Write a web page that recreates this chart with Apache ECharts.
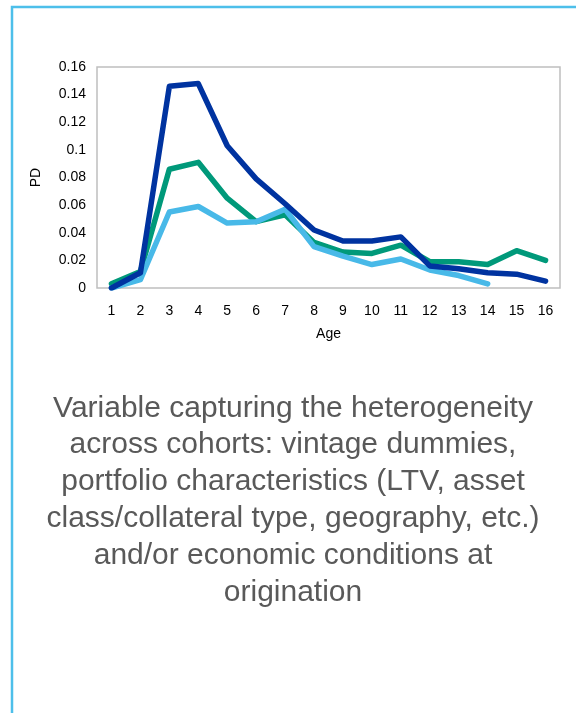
<!DOCTYPE html>
<html>
<head>
<meta charset="utf-8">
<script src="https://cdn.jsdelivr.net/npm/echarts@6/dist/echarts.min.js"></script>
<style>
  html, body { margin: 0; padding: 0; background: #ffffff; }
  #chart { width: 576px; height: 713px; }
</style>
</head>
<body>
<div id="chart"></div>
<script>
// Loan age (years since origination)
const ages = ['1','2','3','4','5','6','7','8','9','10','11','12','13','14','15','16'];

// Probability of default by age, one curve per cohort
const cohortHigh = [0.000, 0.011, 0.146, 0.148, 0.103, 0.079, 0.061, 0.042, 0.034, 0.034, 0.037, 0.016, 0.014, 0.011, 0.010, 0.005];
const cohortMid  = [0.003, 0.012, 0.086, 0.091, 0.065, 0.048, 0.053, 0.033, 0.026, 0.025, 0.031, 0.019, 0.019, 0.017, 0.027, 0.020];
const cohortLow  = [0.000, 0.006, 0.055, 0.059, 0.047, 0.048, 0.057, 0.030, 0.023, 0.017, 0.021, 0.013, 0.009, 0.003, null, null];

const yTicks = { min: 0, max: 0.16, step: 0.02 };

const captionLines = [
  'Variable capturing the heterogeneity',
  'across cohorts: vintage dummies,',
  'portfolio characteristics (LTV, asset',
  'class/collateral type, geography, etc.)',
  'and/or economic conditions at',
  'origination'
];

const chart = echarts.init(document.getElementById('chart'), null, { renderer: 'canvas' });

const font = '"Liberation Sans", Arial, sans-serif';

function lineSeries(name, data, color) {
  return {
    name: name,
    type: 'line',
    data: data,
    showSymbol: false,
    symbol: 'none',
    connectNulls: false,
    lineStyle: { color: color, width: 5.5, cap: 'round', join: 'round' },
    itemStyle: { color: color },
    emphasis: { disabled: true },
    animation: false
  };
}

chart.setOption({
  backgroundColor: '#ffffff',
  animation: false,
  graphic: [
    {
      type: 'rect',
      shape: { x: 12, y: 7, width: 600, height: 720 },
      style: { fill: 'none', stroke: '#4DBFEA', lineWidth: 2.5 },
      silent: true
    },
    {
      type: 'text',
      x: 293,
      y: 390,
      style: {
        text: captionLines.join('\n'),
        fill: '#595959',
        font: '30px ' + font,
        lineHeight: 36.8,
        align: 'center',
        verticalAlign: 'top'
      },
      silent: true
    }
  ],
  grid: {
    left: 97,
    top: 67,
    width: 463,
    height: 221,
    show: true,
    borderColor: '#BFBFBF',
    borderWidth: 1.5,
    backgroundColor: 'transparent'
  },
  xAxis: {
    type: 'category',
    data: ages,
    boundaryGap: true,
    name: 'Age',
    nameLocation: 'middle',
    nameGap: 39,
    nameTextStyle: { color: '#000000', fontSize: 14, fontFamily: font },
    axisLine: { show: false },
    axisTick: { show: false },
    axisLabel: { color: '#000000', fontSize: 14, fontFamily: font, margin: 16 },
    splitLine: { show: false }
  },
  yAxis: {
    type: 'value',
    min: yTicks.min,
    max: yTicks.max,
    interval: yTicks.step,
    name: 'PD',
    nameLocation: 'middle',
    nameGap: 54,
    nameRotate: 90,
    nameTextStyle: { color: '#000000', fontSize: 14, fontFamily: font },
    axisLine: { show: false },
    axisTick: { show: false },
    axisLabel: {
      color: '#000000', fontSize: 14, fontFamily: font, margin: 11,
      formatter: v => String(parseFloat(v.toFixed(2)))
    },
    splitLine: { show: false }
  },
  series: [
    lineSeries('Cohort B', cohortMid, '#00997A'),
    lineSeries('Cohort C', cohortLow, '#48B9E8'),
    lineSeries('Cohort A', cohortHigh, '#0033A0')
  ]
});
</script>
</body>
</html>
